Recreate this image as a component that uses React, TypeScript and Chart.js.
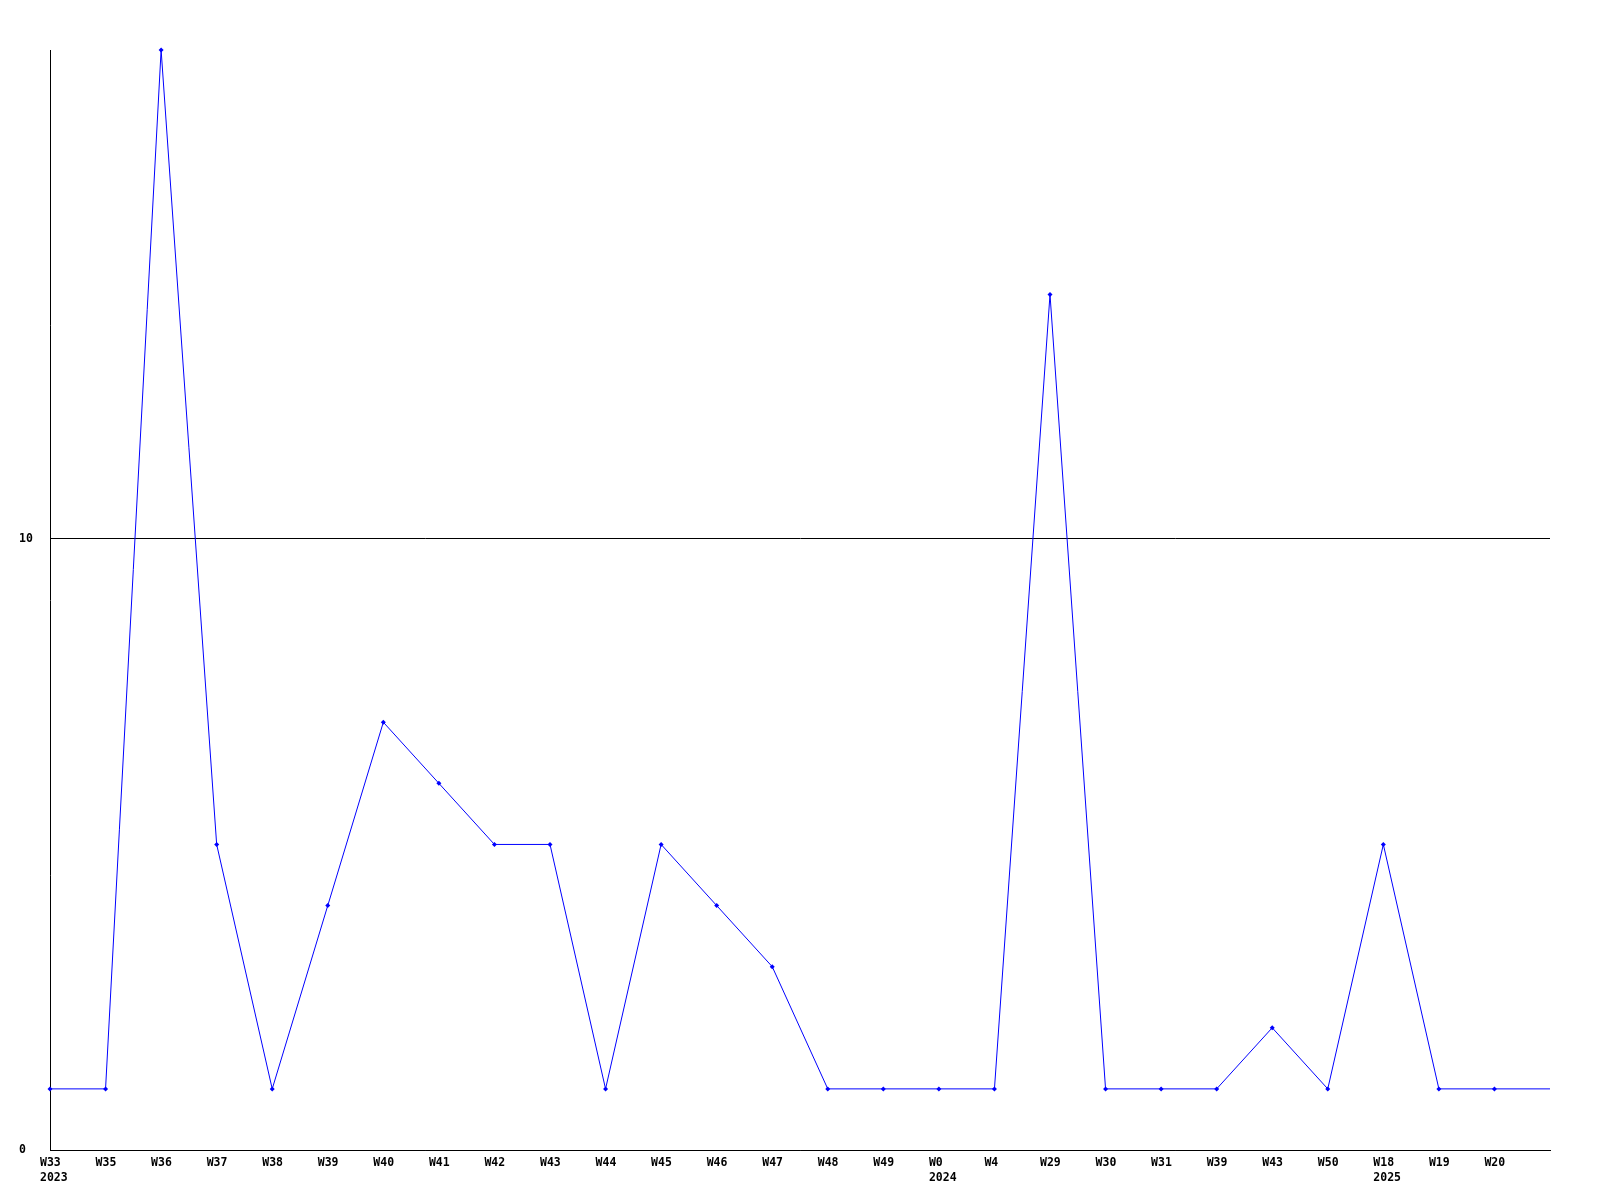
import React, { useEffect, useRef } from "react";
import { Chart, registerables } from "chart.js";

Chart.register(...registerables);

const weeks = ["W33", "W35", "W36", "W37", "W38", "W39", "W40", "W41", "W42", "W43", "W44", "W45", "W46", "W47", "W48", "W49", "W0", "W4", "W29", "W30", "W31", "W39", "W43", "W50", "W18", "W19", "W20", ""];
const years = ["2023", "", "", "", "", "", "", "", "", "", "", "", "", "", "", "", "2024", "", "", "", "", "", "", "", "2025", "", "", ""];
const values = [1, 1, 18, 5, 1, 4, 7, 6, 5, 5, 1, 5, 4, 3, 1, 1, 1, 1, 14, 1, 1, 1, 2, 1, 5, 1, 1, 1];
const yTicks = [0, 10];
const yMax = 18;

export default function App() {
  const ref = useRef<HTMLCanvasElement | null>(null);

  useEffect(() => {
    if (!ref.current) return;
    const labels = weeks.map((w, i) => (years[i] ? [w, years[i]] : w));
    const font = { family: "'DejaVu Sans Mono', monospace", size: 11.5, weight: "bold" as const, lineHeight: "15px" };
    const chart = new Chart(ref.current, {
      type: "line",
      data: {
        labels,
        datasets: [
          {
            data: values,
            borderColor: "#0000ff",
            backgroundColor: "#0000ff",
            borderWidth: 1,
            pointStyle: "rectRot",
            pointRadius: values.map((_, i) => (weeks[i] ? 2.5 : 0)),
            pointBorderWidth: 0,
            pointBackgroundColor: "#0000ff",
            tension: 0,
            clip: false as any,
          },
        ],
      },
      options: {
        animation: false,
        responsive: false,
        devicePixelRatio: 1,
        layout: { padding: { left: 19, top: 50, right: 50, bottom: 0 } },
        plugins: { legend: { display: false }, tooltip: { enabled: false } },
        scales: {
          x: {
            type: "category",
            offset: false,
            grid: { display: false, drawTicks: false },
            border: { display: true, color: "#000000", width: 1 },
            afterFit: (s: any) => {
              s.height = 50;
            },
            ticks: {
              autoSkip: false,
              maxRotation: 0,
              minRotation: 0,
              align: "start",
              labelOffset: -10,
              padding: 6,
              color: "#000000",
              font,
            },
          },
          y: {
            min: 0,
            max: yMax,
            grid: { display: true, color: "#000000", lineWidth: 1, drawTicks: false },
            border: { display: true, color: "#000000", width: 1 },
            afterBuildTicks: (s: any) => {
              s.ticks = yTicks.map((v) => ({ value: v }));
            },
            afterFit: (s: any) => {
              s.width = 31;
            },
            ticks: {
              crossAlign: "far",
              padding: 0,
              color: "#000000",
              font,
            },
          },
        },
      },
    });
    return () => chart.destroy();
  }, []);

  return (
    <div style={{ position: "fixed", left: 0, top: 0, width: 1600, height: 1200, background: "#ffffff" }}>
      <canvas ref={ref} width={1600} height={1200} />
    </div>
  );
}
